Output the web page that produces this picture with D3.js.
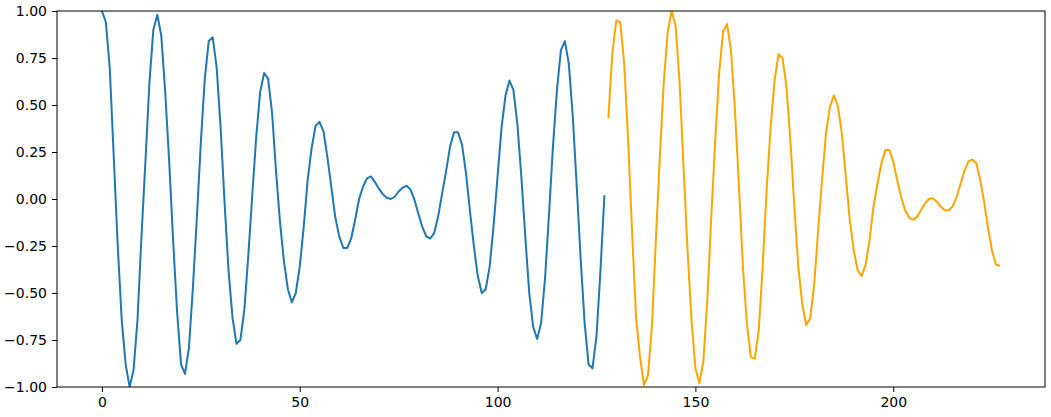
<!DOCTYPE html>
<html>
<head>
<meta charset="utf-8">
<script src="https://d3js.org/d3.v7.min.js"></script>
<style>
  body { margin: 0; background: #fff; }
  .axis text { font-family: "DejaVu Sans", sans-serif; font-size: 14px; fill: #000; }
  .axis path, .axis line { stroke: #000; }
</style>
</head>
<body>
<svg class="chart"></svg>
<script>
var width = 1051,
    height = 417;
var margin = {top: 11, right: 6, bottom: 30, left: 57};

// first series starts at x = 0, second one right after it
var blueStart = 0;
var blueValues = [
  1.0, 0.94, 0.69, 0.22, -0.25, -0.64, -0.88, -1.0, -0.91, -0.64,
  -0.2, 0.2, 0.615, 0.90, 0.98, 0.87, 0.57, 0.2, -0.22, -0.6,
  -0.88, -0.93, -0.79, -0.47, -0.1, 0.3, 0.64, 0.84, 0.86, 0.70,
  0.38, -0.02, -0.38, -0.63, -0.77, -0.75, -0.59, -0.3, 0.02, 0.33,
  0.57, 0.67, 0.64, 0.46, 0.15, -0.12, -0.33, -0.48, -0.55, -0.50,
  -0.36, -0.15, 0.1, 0.27, 0.39, 0.41, 0.36, 0.22, 0.06, -0.1,
  -0.2, -0.26, -0.26, -0.21, -0.11, 0.0, 0.065, 0.11, 0.12, 0.09,
  0.055, 0.025, 0.007, 0.0, 0.012, 0.04, 0.06, 0.07, 0.05, -0.005,
  -0.08, -0.15, -0.2, -0.21, -0.18, -0.09, 0.03, 0.15, 0.28, 0.355,
  0.355, 0.29, 0.14, -0.06, -0.25, -0.41, -0.50, -0.48, -0.36, -0.14,
  0.12, 0.38, 0.55, 0.63, 0.58, 0.40, 0.12, -0.2, -0.5, -0.68,
  -0.745, -0.66, -0.42, -0.08, 0.28, 0.58, 0.79, 0.84, 0.72, 0.44,
  0.07, -0.32, -0.66, -0.88, -0.90, -0.73, -0.38, 0.02
];

var orangeStart = 128;
var orangeValues = [
  0.43, 0.775, 0.95, 0.94, 0.72, 0.31, -0.18, -0.63, -0.84, -0.99,
  -0.94, -0.68, -0.22, 0.22, 0.62, 0.89, 1.0, 0.92, 0.62, 0.17,
  -0.27, -0.64, -0.90, -0.98, -0.865, -0.54, -0.1, 0.31, 0.67, 0.89,
  0.93, 0.79, 0.47, 0.07, -0.36, -0.66, -0.84, -0.85, -0.70, -0.36,
  0.05, 0.38, 0.63, 0.77, 0.75, 0.60, 0.31, -0.04, -0.36, -0.56,
  -0.67, -0.635, -0.46, -0.17, 0.10, 0.35, 0.49, 0.55, 0.495, 0.35,
  0.12, -0.11, -0.27, -0.38, -0.41, -0.35, -0.22, -0.04, 0.08, 0.19,
  0.26, 0.26, 0.2, 0.10, 0.01, -0.06, -0.10, -0.11, -0.095, -0.06,
  -0.025, 0.0, 0.004, -0.015, -0.04, -0.06, -0.06, -0.04, 0.01, 0.08,
  0.15, 0.2, 0.21, 0.19, 0.10, -0.02, -0.16, -0.28, -0.35, -0.355
];

var xTicks = [0, 50, 100, 150, 200];
var yTicks = [-1.0, -0.75, -0.5, -0.25, 0.0, 0.25, 0.5, 0.75, 1.0];

var series = [
  {color: "#1f77b4", pts: blueValues.map(function(v, i) { return [blueStart + i, v]; })},
  {color: "orange", pts: orangeValues.map(function(v, i) { return [orangeStart + i, v]; })}
];

var xmax = orangeStart + orangeValues.length - 1;
var pad = (xmax - blueStart) * 0.05; // matplotlib style margin

var x = d3.scaleLinear()
    .domain([blueStart - pad, xmax + pad])
    .range([margin.left, width - margin.right]);
var y = d3.scaleLinear()
    .domain([-1, 1])
    .range([height - margin.bottom, margin.top]);

var chart = d3.select(".chart")
    .attr("width", width)
    .attr("height", height);

chart.append("clipPath").attr("id", "plotclip")
  .append("rect")
    .attr("x", margin.left)
    .attr("y", margin.top)
    .attr("width", width - margin.left - margin.right)
    .attr("height", height - margin.top - margin.bottom);

var line = d3.line()
    .x(function(d) { return x(d[0]); })
    .y(function(d) { return y(d[1]); });

chart.append("g").attr("clip-path", "url(#plotclip)")
  .selectAll("path")
    .data(series)
  .enter().append("path")
    .attr("d", function(d) { return line(d.pts); })
    .attr("fill", "none")
    .attr("stroke", function(d) { return d.color; })
    .attr("stroke-width", 2)
    .attr("stroke-linejoin", "round");

chart.append("g") //x-axis
    .attr("class", "axis")
    .attr("transform", "translate(0," + (height - margin.bottom) + ")")
    .call(d3.axisBottom(x).tickValues(xTicks).tickSize(5).tickPadding(5).tickSizeOuter(0))
    .call(function(g) { g.select(".domain").remove(); });

chart.append("g") //y-axis
    .attr("class", "axis")
    .attr("transform", "translate(" + margin.left + ",0)")
    .call(d3.axisLeft(y).tickValues(yTicks).tickFormat(d3.format(".2f")).tickSize(5).tickPadding(5))
    .call(function(g) { g.select(".domain").remove(); });

chart.append("rect") //frame
    .attr("x", margin.left)
    .attr("y", margin.top)
    .attr("width", width - margin.left - margin.right)
    .attr("height", height - margin.top - margin.bottom)
    .attr("fill", "none")
    .attr("stroke", "#000")
    .attr("stroke-width", 1);
</script>
</body>
</html>
